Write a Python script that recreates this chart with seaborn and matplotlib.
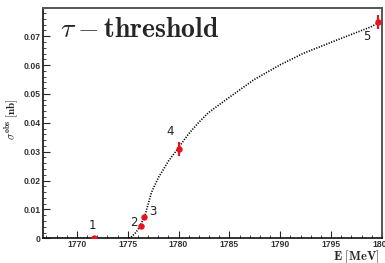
import matplotlib
matplotlib.use("Agg")
import matplotlib.pyplot as plt
import matplotlib.ticker as mticker
import seaborn as sns
import pandas as pd

point_labels = ["1", "2", "3", "4", "5"]
point_E = [1771.7, 1776.3, 1776.65, 1780.05, 1799.6]
point_sigma = [0.0002, 0.0042, 0.0074, 0.0308, 0.0750]
point_err = [0.0003, 0.0004, 0.0005, 0.0024, 0.0024]

# --- theory curve ---
curve_E = [1766.7, 1775.1, 1775.4, 1775.8, 1776.2, 1776.7, 1777.35, 1778.0,
           1779.0, 1780.0, 1780.95, 1781.95, 1782.9, 1784.2, 1785.5, 1787.4,
           1790.0, 1792.3, 1795.6, 1798.9, 1799.6]
curve_sigma = [0.0, 0.0, 0.0006, 0.0020, 0.0041, 0.0080, 0.0160, 0.0209,
               0.0267, 0.0314, 0.0360, 0.0400, 0.0434, 0.0468, 0.0501, 0.0549,
               0.0601, 0.0641, 0.0687, 0.0732, 0.0745]

# label offsets in pixels relative to each point
label_offsets = [(-1.6, 12), (-7, 4), (8.5, 5.5), (-8.5, 17.5), (-11, -15)]

sns.set_style("ticks")
plt.rcParams["mathtext.fontset"] = "cm"
plt.rcParams["font.family"] = ["Liberation Sans", "DejaVu Sans"]

fig = plt.figure(figsize=(3.85, 2.63), dpi=100)
ax = fig.add_axes([0.1125, 0.094, 0.8795, 0.876])

df_curve = pd.DataFrame({"E": curve_E, "sigma": curve_sigma})
sns.lineplot(data=df_curve, x="E", y="sigma", ax=ax, color="black",
             linestyle=(0, (0.7, 0.9)), linewidth=1.2, sort=False, zorder=2)

ax.errorbar(point_E, point_sigma, yerr=point_err, xerr=0.1, fmt="o",
            color="#e8141c", markersize=3.6, elinewidth=1.6, capsize=0,
            zorder=3)

for lab, x, y, off in zip(point_labels, point_E, point_sigma, label_offsets):
    ax.annotate(lab, xy=(x, y), xytext=off, textcoords="offset pixels",
                ha="center", va="center", fontsize=8.5, color="#222222",
                family=["DejaVu Sans"])

ax.set_xlim(1766.7, 1800.0)
ax.set_ylim(0, 0.0798)
ax.xaxis.set_major_locator(mticker.MultipleLocator(5))
ax.xaxis.set_minor_locator(mticker.MultipleLocator(1))
ax.yaxis.set_major_locator(mticker.MultipleLocator(0.01))
ax.yaxis.set_minor_locator(mticker.MultipleLocator(0.002))
ax.yaxis.set_major_formatter(mticker.FuncFormatter(
    lambda v, p: "0" if abs(v) < 1e-9 else f"{v:.2f}"))

ax.tick_params(which="both", direction="in", top=False, right=False,
               labelsize=6.2, labelcolor="#333333", pad=2)
ax.tick_params(axis="x", pad=1.5)
ax.tick_params(which="major", length=5, width=0.8)
ax.tick_params(which="minor", length=2.5, width=0.6)
for lbl in ax.get_xticklabels() + ax.get_yticklabels():
    lbl.set_fontweight("bold")

for side in ["top", "right"]:
    ax.spines[side].set_color("#555555")
    ax.spines[side].set_linewidth(1.4)
for side in ["left", "bottom"]:
    ax.spines[side].set_color("#111111")
    ax.spines[side].set_linewidth(1.2)

ax.set_xlabel(r"$\mathbf{E\ [MeV]}$", fontsize=9, loc="right")
ax.xaxis.set_label_coords(0.993, -0.043, transform=ax.transAxes)
ax.set_ylabel(r"$\sigma^{\mathbf{obs}}\ \mathbf{[nb]}$", fontsize=8,
              loc="top")
ax.yaxis.set_label_coords(-0.066, 0.61, transform=ax.transAxes)

ax.text(0.05, 0.905, r"$\tau - \mathbf{threshold}$", transform=ax.transAxes,
        fontsize=20, ha="left", va="center")

fig.savefig("out.png", dpi=100)
